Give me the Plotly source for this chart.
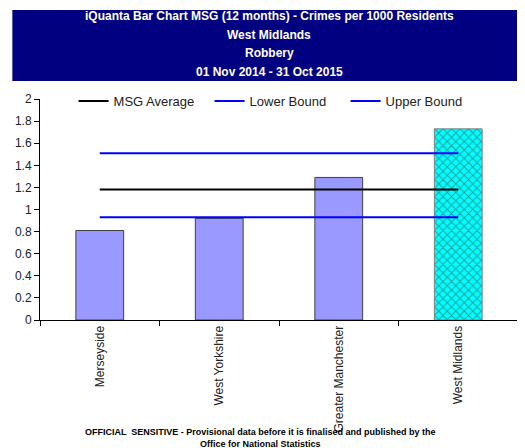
import plotly.graph_objects as go

# values
forces = ["Merseyside", "West Yorkshire", "Greater Manchester", "West Midlands"]
crime_rate = [0.81, 0.92, 1.29, 1.73]
bar_colors = ["#9999FF", "#9999FF", "#9999FF", "#00FFFF"]
bar_patterns = ["", "", "", "x"]
msg_average = [1.18, 1.18, 1.18, 1.18]
lower_bound = [0.93, 0.93, 0.93, 0.93]
upper_bound = [1.51, 1.51, 1.51, 1.51]

title_lines = [
    "iQuanta Bar Chart MSG (12 months) - Crimes per 1000 Residents",
    "West Midlands",
    "Robbery",
    "01 Nov 2014 - 31 Oct 2015",
]
footer = ("OFFICIAL  SENSITIVE - Provisional data before it is finalised and published by the"
          "<br>Office for National Statistics")

# the page body has an 8px margin, so the figure is a bit smaller than the window
OFF = 8
W, H = 525 - OFF, 448 - OFF
L, R, T, B = 34 - OFF, 7, 99 - OFF, 128
pw, ph = W - L - R, H - T - B


def px_x(p):
    # page pixel -> paper x
    return (p - 34) / pw


def px_y(p):
    # page pixel -> paper y
    return (320 - p) / ph


fig = go.Figure()
fig.add_trace(go.Bar(
    x=forces, y=crime_rate, showlegend=False,
    marker=dict(color=bar_colors,
                line=dict(color=["#404040", "#404040", "#404040", "#808080"], width=1),
                pattern=dict(shape=bar_patterns, fgcolor="black", bgcolor=bar_colors,
                             size=6, solidity=0.3, fillmode="overlay")),
))
for name, vals, col in [("MSG Average", msg_average, "black"),
                        ("Lower Bound", lower_bound, "#0000FF"),
                        ("Upper Bound", upper_bound, "#0000FF")]:
    fig.add_trace(go.Scatter(x=forces, y=vals, mode="lines", name=name,
                             line=dict(color=col, width=2)))

# navy title box
fig.add_shape(type="rect", xref="paper", yref="paper",
              x0=px_x(6), x1=px_x(530), y0=px_y(81), y1=px_y(10),
              fillcolor="#000080", line=dict(width=0), layer="above")
for i, line in enumerate(title_lines):
    fig.add_annotation(text="<b>%s</b>" % line, xref="paper", yref="paper",
                       x=px_x(266), y=px_y([16, 35, 53, 72][i]),
                       showarrow=False, xanchor="center", yanchor="middle",
                       font=dict(family="Liberation Sans, Arial", size=12, color="white"))
fig.add_annotation(text="<b>%s</b>" % footer, xref="paper", yref="paper",
                   x=px_x(257), y=px_y(438), showarrow=False,
                   xanchor="center", yanchor="middle",
                   font=dict(family="Liberation Sans, Arial", size=9, color="black"))

fig.update_layout(
    width=W, height=H,
    margin=dict(l=L, r=R, t=T, b=B, pad=0),
    paper_bgcolor="white", plot_bgcolor="white",
    bargap=0.6,
    font=dict(family="Liberation Sans, Arial", size=12, color="#222"),
    legend=dict(orientation="h", x=px_x(68), y=px_y(86), xanchor="left", yanchor="top",
                entrywidth=91, font=dict(size=13, color="#222"),
                bgcolor="rgba(0,0,0,0)", borderwidth=0, tracegroupgap=0),
    xaxis=dict(showline=True, linecolor="black", linewidth=1, ticks="outside",
               tickson="boundaries", ticklen=5, tickcolor="black", tickangle=-90,
               tickfont=dict(size=12, color="#222"), showgrid=False),
    yaxis=dict(range=[0, 2], dtick=0.2, showline=True, linecolor="black", linewidth=1,
               ticks="outside", ticklen=5, tickcolor="black", showgrid=False,
               zeroline=False, tickfont=dict(size=12, color="#222")),
)

fig.write_html("out.html")
